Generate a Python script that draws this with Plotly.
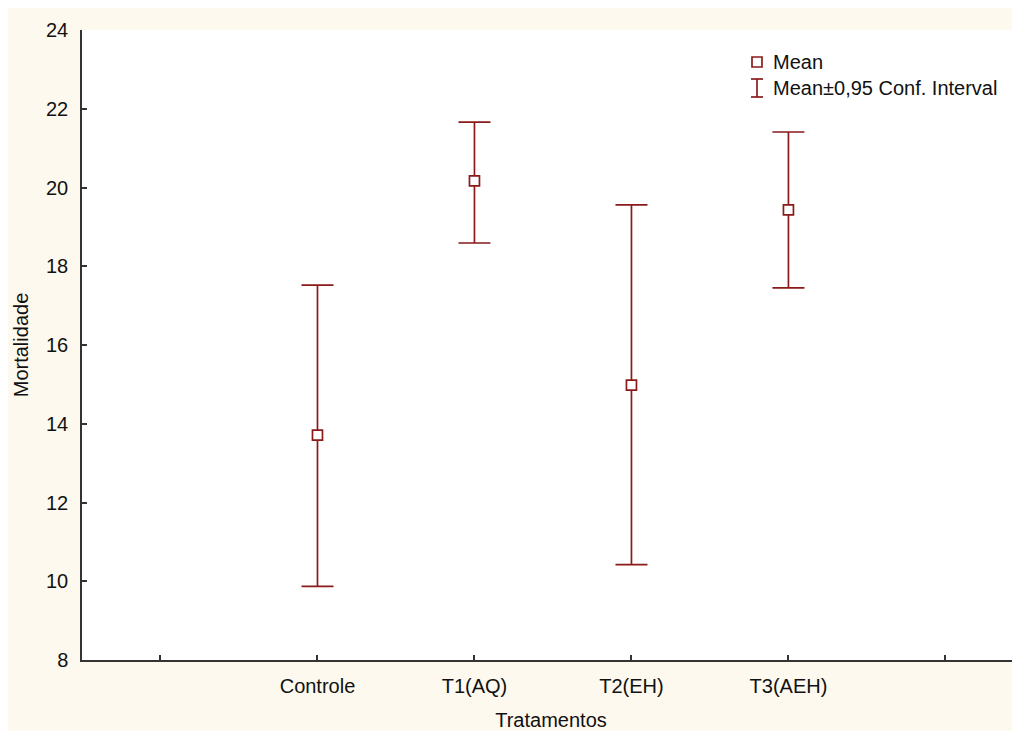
import plotly.graph_objects as go

categories = ["Controle", "T1(AQ)", "T2(EH)", "T3(AEH)"]
means = [13.71, 20.17, 14.98, 19.43]
upper = [17.52, 21.66, 19.56, 21.41]
lower = [9.87, 18.59, 10.42, 17.45]
tick_positions = [0, 1, 2, 3, 4, 5]
tick_labels = ["", "Controle", "T1(AQ)", "T2(EH)", "T3(AEH)", ""]
y_ticks = [8, 10, 12, 14, 16, 18, 20, 22, 24]

RED = "#8B1A1A"
CREAM = "#FEF9EE"
AXIS = "#333333"
FONT = "Liberation Sans, Arial, sans-serif"
FS = 20

xpos = list(range(1, len(categories) + 1))
err_plus = [u - m for u, m in zip(upper, means)]
err_minus = [m - l for m, l in zip(means, lower)]

fig = go.Figure()
fig.add_trace(go.Scatter(
    x=xpos, y=means, mode="markers",
    marker=dict(symbol="square", size=10, color="white",
                line=dict(color=RED, width=1.7)),
    error_y=dict(type="data", symmetric=False, array=err_plus,
                 arrayminus=err_minus, color=RED, thickness=1.7, width=16),
    showlegend=False, hoverinfo="skip",
))

OFF = 8  # page offset of the figure
W, H = 1012, 723
L, R, T, B = 74, 0, 22, 71
pw, ph = W - L - R, H - T - B


def px_x(px):
    return (px - OFF - L) / pw


def px_y(py):
    return (H - B - (py - OFF)) / ph


shapes = [
    # legend: square marker
    dict(type="rect", xref="paper", yref="paper", xsizemode="pixel", ysizemode="pixel",
         xanchor=px_x(757), yanchor=px_y(62), x0=-5, x1=5, y0=-5, y1=5,
         fillcolor="white", line=dict(color=RED, width=1.7), layer="above"),
    # legend: I-beam
    dict(type="line", xref="paper", yref="paper", xsizemode="pixel", ysizemode="pixel",
         xanchor=px_x(757), yanchor=px_y(88), x0=0, x1=0, y0=-9, y1=9,
         line=dict(color=RED, width=1.7), layer="above"),
    dict(type="line", xref="paper", yref="paper", xsizemode="pixel", ysizemode="pixel",
         xanchor=px_x(757), yanchor=px_y(88), x0=-6, x1=6, y0=9, y1=9,
         line=dict(color=RED, width=1.7), layer="above"),
    dict(type="line", xref="paper", yref="paper", xsizemode="pixel", ysizemode="pixel",
         xanchor=px_x(757), yanchor=px_y(88), x0=-6, x1=6, y0=-9, y1=-9,
         line=dict(color=RED, width=1.7), layer="above"),
]

annotations = [
    dict(text="Mean", xref="paper", yref="paper", x=px_x(771), y=px_y(62),
         xanchor="left", yanchor="middle", showarrow=False,
         font=dict(family=FONT, size=FS, color="#111111")),
    dict(text="Mean±0,95 Conf. Interval", xref="paper", yref="paper", x=px_x(771), y=px_y(88),
         xanchor="left", yanchor="middle", showarrow=False,
         font=dict(family=FONT, size=FS, color="#111111")),
]

fig.update_layout(
    width=W, height=H,
    margin=dict(l=L, r=R, t=T, b=B, autoexpand=False),
    paper_bgcolor=CREAM, plot_bgcolor="white",
    font=dict(family=FONT, size=FS, color="#111111"),
    shapes=shapes, annotations=annotations,
    xaxis=dict(
        range=[-0.5, 5.475], tickmode="array", tickvals=tick_positions, ticktext=tick_labels,
        showgrid=False, zeroline=False, showline=True, linecolor=AXIS, linewidth=1.5,
        ticks="inside", ticklen=5, tickwidth=1.5, tickcolor=AXIS,
        ticklabelstandoff=7,
        title=dict(text="Tratamentos", standoff=18, font=dict(size=FS)),
    ),
    yaxis=dict(
        range=[8, 24], tickmode="array", tickvals=y_ticks,
        showgrid=False, zeroline=False, showline=True, linecolor=AXIS, linewidth=1.5,
        ticks="inside", ticklen=5, tickwidth=1.5, tickcolor=AXIS,
        ticklabelstandoff=8,
        title=dict(text="Mortalidade", standoff=12, font=dict(size=FS)),
    ),
)

fig.write_html("out.html", post_script="document.body.style.overflow='hidden';")
